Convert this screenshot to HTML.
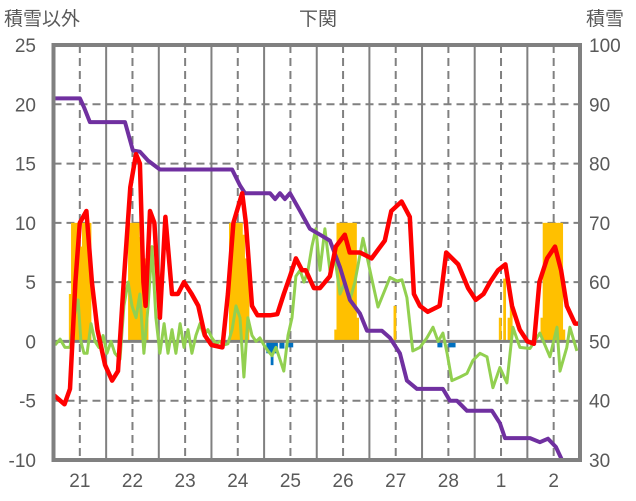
<!DOCTYPE html>
<html><head><meta charset="utf-8"><style>
html,body{margin:0;padding:0;background:#fff;width:636px;height:501px;overflow:hidden}
svg text{font-family:"Liberation Sans","Noto Sans CJK JP",sans-serif;fill:#595959}
</style></head><body>
<svg id="chart" width="636" height="501" viewBox="0 0 636 501" xmlns="http://www.w3.org/2000/svg">
<g id="grid"></g>
<g id="bars"></g>
<g id="lines"></g>
<g id="axes"></g>
</svg>
<script>
const dayLabels=["21","22","23","24","25","26","27","28","1","2"];
const leftTicks=[25,20,15,10,5,0,-5,-10];
const rightTicks=[100,90,80,70,60,50,40,30];
const snowfallHours=[7,8,9,10,11,12,13,14,15,16,34,35,36,37,38,39,40,41,42,80,81,82,83,84,85,86,87,88,128,129,130,131,132,133,134,135,136,137,138,155,203,205,207,208,222,223,224,225,226,227,228,229,230,231,232];
const snowfallValues=[4,10,10,10,10,8,10,10,10,10,10,10,10,10,10,8.8,7,7,2,10,10,10,10,10,10,9,7,7,1,10,10,10,10,10,10,10,10,10,2,3,2,5.3,2,3.5,2,10,10,10,10,10,10,10,10,10,1];
const meltHours=[97,98,99,100,101,103,104,107,108,175,176,180,181,182];
const meltValues=[-1,-1,-2,-1,-1,-0.6,-0.6,-0.5,-0.5,-0.5,-0.5,-0.5,-0.5,-0.5];
const tempHours=[0,5,7.5,10,12,15,17.5,20,23.5,26.7,29.4,32,35,37.6,39.4,41,42,44,46,48.5,51,54,56.7,59.5,63,66,69,72,77,79.5,82,86,87.7,90.5,93,98.7,102,105,107.8,110.5,113.3,115,118.7,121.5,126,128.7,132.8,135,139.7,145,151,154,158.7,162.4,164.3,167,170.6,176,179,184.5,189,192.5,196,199,202.6,206,209,212.5,216,219,221.5,225,228.6,231.4,234,237.7,240];
const tempValues=[-4.5,-5.3,-4,5,10,11,5,1,-2,-3.3,-2.5,5,13,15.8,15,5,3,11,10,2,10.5,4,4,5,4,3,0.5,-0.3,-0.5,4,10,12.5,10,3,2.2,2.2,2.3,4,5.5,7,6,6,4.5,4.5,5.5,8,9,7.5,7.5,7,8.5,11,11.8,10.5,4,3,2.5,3,7.5,6.5,4.5,3.5,4,5,6,6.5,3,1,0,-0.2,5,7,8,6,3,1.5,1.5];
const windHours=[0.7,3,5.2,7.5,9.3,11.2,12.5,13.9,15.3,17.1,18.9,20.7,22.6,24.4,26.2,28,30.3,32.1,34,35.8,37.6,39.4,41.2,43.1,44.9,46.7,48.5,50.4,52.2,54,55.8,57.7,59.5,61.3,63.1,64.9,66.8,68.6,70.4,72.2,74.1,75.9,77.7,79.5,81.4,83.2,85,86.8,88.6,90.5,92.3,94.1,95.9,97.8,99.6,101.4,103.2,105,106.9,108.7,110.5,112.4,114.2,116,117.8,119.6,121.5,123.7,126,128.3,130.6,132.9,135.1,137.4,141.1,145.2,147.9,153.4,156.6,158.8,161.1,163.8,167,170.2,173,175.3,177.5,179.4,181.6,185.3,188.5,191.2,194.4,197.6,200.3,203.5,206.7,209.4,212.6,217.2,221.7,226.3,229.5,230.9,234,235.4,238.6];
const windValues=[-0.3,0.2,-0.5,-0.5,2,3.5,0,-1,-1,1.5,0,-0.5,0.5,-1,0,-1,-1.5,3,5,3,2,4,-1,3,8,2,-1,1.5,-1,1,-1,1.5,-0.5,1,-1,0.5,1.5,0.5,1,0.3,-0.2,0,-0.3,-0.2,1,3,2,-3,2,0.5,0,0.3,-0.3,-0.8,-1.2,-0.5,-1.5,-2.5,0.5,2,5.5,6,5,6,8,9.5,6,9.5,6,7,4,5,3.5,5,8.7,5.2,2.9,5.4,5.1,5.2,3.7,-0.8,-0.5,0.3,1.2,0,0.7,-1,-3.3,-3,-2.7,-1.6,-1,-1.3,-3.9,-2.2,-3.5,1.2,-0.5,-0.6,0.7,-1.3,1.2,-2.5,-0.5,1.2,-0.8];
const depthHours=[0,12.1,13.9,16.6,32.6,36.2,39.4,43.1,48.5,81.4,85,87.3,98.7,101,103.2,105.5,107.8,112.4,116.9,121.5,126,130.6,135.1,139.7,142.9,149.7,153.4,157.9,161.1,165.7,177.5,180.7,183.9,188.5,199.9,203.5,205.8,217.2,221.7,225.4,229,231.8,240];
const depthValues=[91,91,89.5,87,87,82.2,82,80.5,79,79,76.3,75,75,74,75,74,75,72,69,68,67,62.5,57,54.7,51.8,51.8,50.6,48,43.4,42,42,40,40,38.3,38.3,36.2,33.7,33.7,33,33.6,32.2,30,30];

const X0=53.5,X1=580,Y0=45,Y1=460;
const hw=(X1-X0)/240;
const xs=h=>X0+h*hw;
const yl=v=>Y0+(25-v)*(Y1-Y0)/35;
const yr=v=>Y0+(100-v)*(Y1-Y0)/70;
const NS="http://www.w3.org/2000/svg";
function mk(tag,attrs,parent){const e=document.createElementNS(NS,tag);for(const k in attrs)e.setAttribute(k,attrs[k]);parent.appendChild(e);return e;}
const grid=document.getElementById('grid'),bars=document.getElementById('bars'),lines=document.getElementById('lines'),axes=document.getElementById('axes');

leftTicks.forEach(v=>{
  const y=yl(v);
  const l=mk('line',{x1:X0,x2:X1,y1:y,y2:y,stroke:'#808080','stroke-width':2,'stroke-dasharray':'8,5'},grid);
  
  
  const t=mk('text',{x:36,y:y+7,'text-anchor':'end','font-size':19},axes);
  t.textContent=v;
  
  
});
rightTicks.forEach(v=>{
  const t=mk('text',{x:589,y:yr(v)+7,'font-size':19},axes);
  t.textContent=v;
  
  
});
dayLabels.forEach((d,i)=>{
  const xc=xs(i*24+12);
  const l=mk('line',{x1:xc,x2:xc,y1:Y0,y2:Y1,stroke:'#808080','stroke-width':2,'stroke-dasharray':'8,5'},grid);
  
  
  if(i>0){const xb=xs(i*24);
    const b=mk('line',{x1:xb,x2:xb,y1:Y0,y2:Y1,stroke:'#808080','stroke-width':2},grid);
    
    }
  const t=mk('text',{x:xc,y:487,'text-anchor':'middle','font-size':19},axes);
  t.textContent=d;
  
  
});

snowfallHours.forEach((h,i)=>{
  const v=snowfallValues[i];
  const r=mk('rect',{x:xs(h),y:yl(v),width:hw+0.6,height:yl(0)-yl(v),fill:'#FFC000'},bars);
  
  
});
meltHours.forEach((h,i)=>{
  const v=meltValues[i];
  const r=mk('rect',{x:xs(h),y:yl(0),width:hw+0.6,height:yl(v)-yl(0),fill:'#0070C0'},bars);
  
  
});
const zl=mk('line',{x1:X0,x2:X1,y1:yl(0),y2:yl(0),stroke:'#808080','stroke-width':3},bars);



function poly(hs,vs,yf,color,w,name){
  const p=mk('polyline',{points:hs.map((h,i)=>xs(h).toFixed(1)+','+yf(vs[i]).toFixed(1)).join(' '),fill:'none',stroke:color,'stroke-width':w,'stroke-linejoin':'round'},lines);
  
  
}
poly(windHours,windValues,yl,'#92D050',3,'green-series-line');
poly(depthHours,depthValues,yr,'#7030A0',4,'snow-depth-line');
poly(tempHours,tempValues,yl,'#FF0000',4.5,'temperature-line');

const fr=mk('rect',{x:X0,y:Y0,width:X1-X0,height:Y1-Y0,fill:'none',stroke:'#808080','stroke-width':4},axes);


</script>
<svg width="636" height="501" style="position:absolute;left:0;top:0" xmlns="http://www.w3.org/2000/svg">
<text x="4" y="25" font-size="19">積雪以外</text>
<text x="318" y="25" font-size="19" text-anchor="middle">下関</text>
<text x="586" y="25" font-size="19">積雪</text>
</svg>
</body></html>
